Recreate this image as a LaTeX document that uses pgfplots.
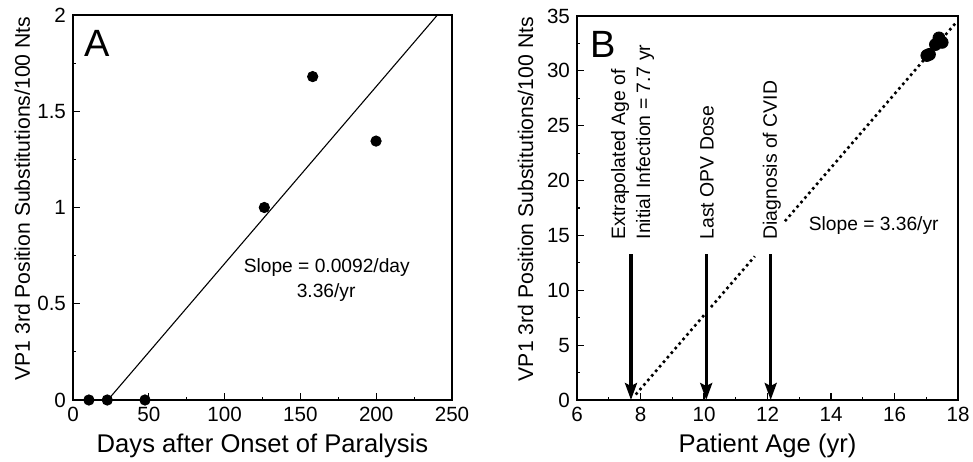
\documentclass[border=0pt]{standalone}
\usepackage{fontspec}
\setmainfont{Liberation Sans}
\usepackage{pgfplots}
\pgfplotsset{compat=1.18}
\usetikzlibrary{arrows.meta}

\pgfplotsset{
  panel/.style={
    scale only axis,
    clip=false,
    axis line style={line width=0.75pt},
    tick align=inside, tick pos=left,
    major tick length=3.5pt, minor tick length=1.6pt,
    every tick/.style={line width=0.6pt, black},
    tick label style={font=\fontsize{10.3}{12}\selectfont},
    /pgf/number format/assume math mode=true,
    xlabel style={font=\fontsize{12.8}{14}\selectfont, at={(axis description cs:0.5,-0.12)}, anchor=center},
    ylabel style={font=\fontsize{10.6}{12}\selectfont, anchor=center},
  },
  dots/.style={only marks, mark=*, mark options={fill=black, draw=black}},
}

\begin{document}
\begin{tikzpicture}
\path[use as bounding box] (0,0) rectangle (486.5pt,230.5pt);

% panel A
\begin{axis}[panel,
  at={(36.5pt,30.5pt)}, anchor=south west,
  width=189.5pt, height=192.5pt,
  xmin=0, xmax=250, ymin=0, ymax=2,
  xtick={0,50,100,150,200,250},
  ytick={0,0.5,1,1.5,2},
  yticklabels={0,0.5,1,1.5,2},
  minor x tick num=1, minor y tick num=1,
  xlabel={Days after Onset of Paralysis},
  ylabel={VP1 3rd Position Substitutions/100 Nts},
  ylabel style={at={(axis description cs:-0.134,0.523)}},
]
\addplot[black, line width=0.55pt] coordinates {(23,0) (240.4,2)};
\addplot[dots, mark size=2.6pt] coordinates {
  (10.5,0) (22.6,0) (47.5,0) (126.2,1.0) (158.1,1.68) (199.9,1.345)
};
\node[font=\fontsize{19}{20}\selectfont] at (axis cs:15.8,1.85) {A};
\node[font=\fontsize{9.6}{12}\selectfont, anchor=west] at (axis cs:108,0.686) {Slope = 0.0092/day};
\node[font=\fontsize{9.6}{12}\selectfont, anchor=east] at (axis cs:191,0.556) {3.36/yr};
\end{axis}

% panel B
\begin{axis}[panel,
  at={(288.5pt,30.5pt)}, anchor=south west,
  width=190.5pt, height=192pt,
  xmin=6, xmax=18, ymin=0, ymax=35,
  xtick={6,8,...,18},
  ytick={0,5,...,35},
  minor x tick num=1, minor y tick num=1,
  xlabel={Patient Age (yr)},
  ylabel={VP1 3rd Position Substitutions/100 Nts},
  ylabel style={at={(axis description cs:-0.135,0.523)}},
]
\addplot[black, line width=1.3pt, dash pattern=on 1.3pt off 1.7pt] coordinates {(7.85,0.5) (10.0,7.73)};
\addplot[black, line width=1.3pt, dash pattern=on 1.3pt off 1.7pt] coordinates {(10.22,8.47) (11.6,13.1)};
\addplot[black, line width=1.3pt, dash pattern=on 1.3pt off 1.7pt] coordinates {(12.55,16.3) (17.95,34.44)};
\addplot[dots, mark size=3pt] coordinates {
  (17.02,31.4) (17.1,31.5) (17.29,32.4) (17.4,33.0) (17.5,32.6)
};
\foreach \xa in {7.7,10.07,12.1}{
  \edef\tmp{\noexpand\draw[line width=1.6pt, -{Stealth[length=8.5pt,width=6pt,inset=1.5pt]}]
    (axis cs:\xa,13.3) -- (axis cs:\xa,0);}
  \tmp
}
\node[font=\fontsize{19}{20}\selectfont] at (axis cs:6.82,32.4) {B};
\node[font=\fontsize{9.7}{12.5}\selectfont, rotate=90, anchor=west, align=left] at (axis cs:7.75,14.0)
  {Extrapolated Age of\\Initial Infection = 7.7 yr};
\node[font=\fontsize{9.7}{12}\selectfont, rotate=90, anchor=west] at (axis cs:10.09,14.0) {Last OPV Dose};
\node[font=\fontsize{9.7}{12}\selectfont, rotate=90, anchor=west] at (axis cs:12.14,14.0) {Diagnosis of CVID};
\node[font=\fontsize{9.6}{12}\selectfont, anchor=west] at (axis cs:13.08,15.86) {Slope = 3.36/yr};
\end{axis}
\end{tikzpicture}
\end{document}
